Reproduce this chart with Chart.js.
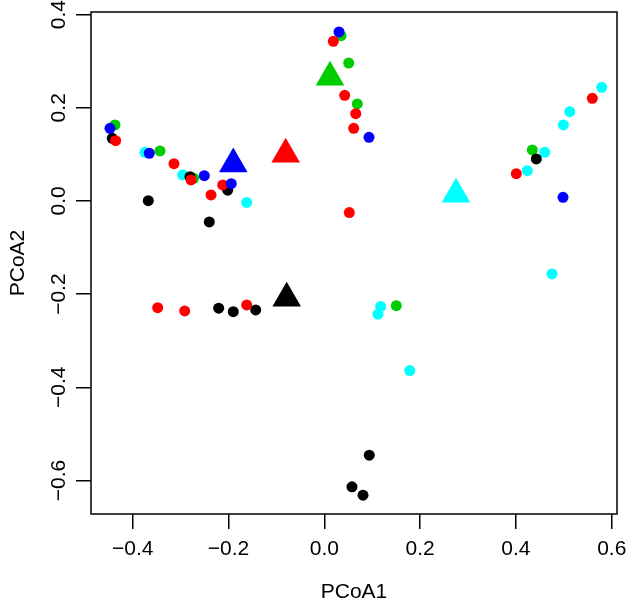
<!DOCTYPE html>
<html><head><meta charset="utf-8">
<script src="https://cdn.jsdelivr.net/npm/chart.js@4/dist/chart.umd.min.js"></script>
<style>html,body{margin:0;padding:0;background:#fff}</style>
</head><body>
<canvas id="c" width="628" height="605"></canvas>
<script>
// ---- data (PCoA coordinates) ----
const blackX = [-0.4426,-0.2804,-0.2017,-0.3674,-0.2401,-0.2205,-0.1900,-0.1432,0.4426,0.0939,0.0578,0.0808];
const blackY = [0.1345,0.0521,0.0230,0.0006,-0.0451,-0.2303,-0.2376,-0.2339,0.0901,-0.5457,-0.6137,-0.6315];
const redX = [-0.4355,-0.3138,-0.2783,-0.2121,-0.2365,-0.3478,-0.2914,-0.1620,0.0188,0.0426,0.0656,0.0614,0.0522,0.5595,0.4008];
const redY = [0.1294,0.0800,0.0451,0.0343,0.0129,-0.2290,-0.2361,-0.2232,0.3427,0.2268,0.1873,0.1560,-0.0250,0.2204,0.0586];
const greenX = [-0.4370,-0.3430,-0.2727,0.0349,0.0509,0.0689,0.4342,0.1503];
const greenY = [0.1631,0.1073,0.0487,0.3547,0.2961,0.2082,0.1094,-0.2247];
const blueX = [-0.4474,-0.3653,-0.2505,-0.1942,0.0307,0.0933,0.4983];
const blueY = [0.1560,0.1024,0.0543,0.0371,0.3627,0.1367,0.0079];
const cyanX = [-0.3743,-0.2956,-0.1620,0.1177,0.1121,0.1783,0.5791,0.5123,0.4990,0.4601,0.4238,0.4754];
const cyanY = [0.1045,0.0558,-0.0032,-0.2268,-0.2431,-0.3642,0.2440,0.1916,0.1631,0.1045,0.0650,-0.1567];
// group centroids (triangles)
const centroidGroups = ['black','red','green','blue','cyan'];
const centroidX = [-0.0785,-0.0806,0.0119,-0.1900,0.2749];
const centroidY = [-0.2086,0.1004,0.2657,0.0794,0.0146];
// axes
const xTicks = [-0.4,-0.2,0.0,0.2,0.4,0.6];
const yTicks = [-0.6,-0.4,-0.2,0.0,0.2,0.4];
const xTitle = 'PCoA1';
const yTitle = 'PCoA2';

const colors = {black:'#000000', red:'#FF0000', green:'#00CD00', blue:'#0000FF', cyan:'#00FFFF'};
const pts = (xs, ys) => xs.map((x, i) => ({x, y: ys[i]}));
const circleSet = (name, xs, ys) => ({
  label: name, data: pts(xs, ys), pointStyle: 'circle', pointRadius: 5.5,
  backgroundColor: colors[name], borderWidth: 0, showLine: false
});
const datasets = centroidGroups.map((g, i) => ({
  label: g + ' centroid', data: [{x: centroidX[i], y: centroidY[i]}], pointStyle: 'triangle',
  pointRadius: 16.5, backgroundColor: colors[g], borderWidth: 0, showLine: false
}));
datasets.push(circleSet('blue', blueX, blueY));
datasets.push(circleSet('red', redX, redY));
datasets.push(circleSet('black', blackX, blackY));
datasets.push(circleSet('cyan', cyanX, cyanY));
datasets.push(circleSet('green', greenX, greenY));

const FONT = '21px "Liberation Sans", Arial, Helvetica, sans-serif';
const fmt = v => (v < 0 ? '\u2212' : '') + Math.abs(v).toFixed(1);

const rPlot = {
  id: 'rPlot',
  afterDraw(chart) {
    const ctx = chart.ctx, a = chart.chartArea;
    const xs = chart.scales.x, ys = chart.scales.y;
    ctx.save();
    ctx.strokeStyle = '#000'; ctx.lineWidth = 1.5;
    ctx.strokeRect(a.left, a.top, a.right - a.left, a.bottom - a.top);
    ctx.fillStyle = '#000'; ctx.font = FONT;
    ctx.textAlign = 'center'; ctx.textBaseline = 'middle';
    xTicks.forEach(v => ctx.fillText(fmt(v), xs.getPixelForValue(v), 549));
    ctx.fillText(xTitle, (a.left + a.right) / 2, 592);
    yTicks.forEach(v => {
      ctx.save(); ctx.translate(59, ys.getPixelForValue(v)); ctx.rotate(-Math.PI / 2);
      ctx.fillText(fmt(v), 0, 0); ctx.restore();
    });
    ctx.save(); ctx.translate(18, (a.top + a.bottom) / 2); ctx.rotate(-Math.PI / 2);
    ctx.fillText(yTitle, 0, 0); ctx.restore();
    ctx.restore();
  }
};

const axisCommon = {
  type: 'linear',
  grid: {drawOnChartArea: false, drawTicks: true, tickLength: 15, color: '#000', lineWidth: 1.5},
  border: {display: false},
  ticks: {display: false}
};

new Chart(document.getElementById('c'), {
  type: 'scatter',
  data: {datasets},
  options: {
    responsive: false, animation: false,
    layout: {autoPadding: false, padding: {top: 12, right: 11, left: 0, bottom: 0}},
    plugins: {legend: {display: false}, tooltip: {enabled: false}},
    scales: {
      x: Object.assign({}, axisCommon, {
        position: 'bottom', min: -0.487, max: 0.611,
        afterBuildTicks: s => { s.ticks = xTicks.map(v => ({value: v})); },
        afterFit: s => { s.height = 91; }
      }),
      y: Object.assign({}, axisCommon, {
        position: 'left', min: -0.672, max: 0.4056,
        afterBuildTicks: s => { s.ticks = yTicks.map(v => ({value: v})); },
        afterFit: s => { s.width = 91; }
      })
    }
  },
  plugins: [rPlot]
});
</script>
</body></html>
